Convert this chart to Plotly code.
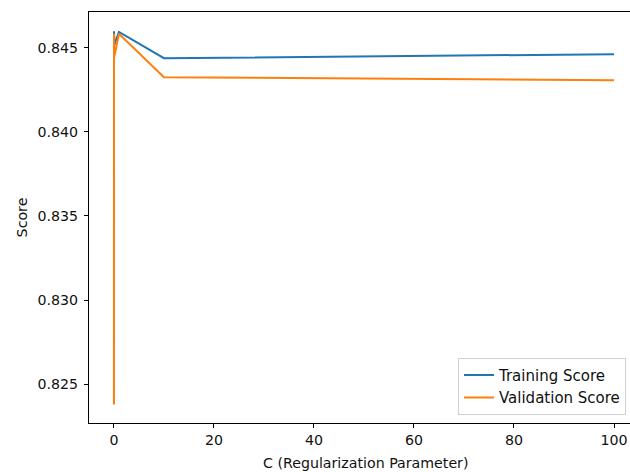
import plotly.graph_objects as go

C_values = [0.001, 0.01, 0.1, 1, 10, 100]
train_scores = [0.8238, 0.8460, 0.8452, 0.84595, 0.84439, 0.84463]
val_scores = [0.8238, 0.84585, 0.8445, 0.84585, 0.84326, 0.84308]
x_ticks = [0, 20, 40, 60, 80, 100]
y_ticks = [0.825, 0.830, 0.835, 0.840, 0.845]

font = dict(family="DejaVu Sans", size=14.2, color="#111111")
legend_font = dict(family="DejaVu Sans", size=15, color="#111111")

fig = go.Figure()
fig.add_trace(go.Scatter(x=C_values, y=train_scores, mode="lines", name="Training Score",
                         line=dict(color="#1f77b4", width=2)))
fig.add_trace(go.Scatter(x=C_values, y=val_scores, mode="lines", name="Validation Score",
                         line=dict(color="#ff7f0e", width=2)))

fig.update_layout(
    width=630, height=472,
    margin=dict(l=89, r=0, t=12, b=49),
    paper_bgcolor="white", plot_bgcolor="white",
    font=font,
    showlegend=True,
    legend=dict(x=0.9926, y=0.02, xanchor="right", yanchor="bottom",
                bgcolor="white", bordercolor="#d0d0d0", borderwidth=1,
                font=legend_font, tracegroupgap=0, itemwidth=30),
    xaxis=dict(range=[-4.99, 103.2], tickvals=x_ticks, ticktext=[str(v) for v in x_ticks],
               showgrid=False, zeroline=False, showline=True, linecolor="black", linewidth=1,
               mirror=True, ticks="outside", ticklen=4, tickcolor="black", tickfont=font),
    yaxis=dict(range=[0.82268, 0.84714], tickvals=y_ticks, ticktext=["%.3f" % v for v in y_ticks],
               showgrid=False, zeroline=False, showline=True, linecolor="black", linewidth=1,
               mirror=False, ticks="outside", ticklen=4, tickcolor="black", tickfont=font,
               ticklabelstandoff=3,
               title=dict(text="Score", font=font, standoff=6)),
    annotations=[dict(text="C (Regularization Parameter)", x=0.5103, y=-0.097,
                      xref="paper", yref="paper", xanchor="center", yanchor="middle",
                      showarrow=False, font=font)],
)

fig.write_html("out.html")
